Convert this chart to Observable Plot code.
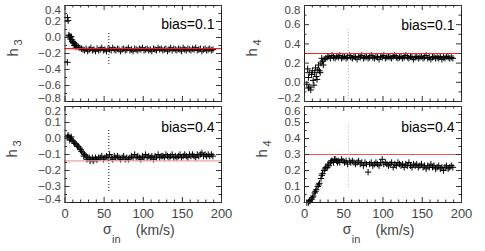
<!DOCTYPE html>
<html>
<head>
<meta charset="utf-8">
<script src="https://cdn.jsdelivr.net/npm/d3@7"></script>
<script src="https://cdn.jsdelivr.net/npm/@observablehq/plot@0.6"></script>
<style>
  html, body { margin: 0; padding: 0; background: #fff; }
  #chart { position: relative; width: 485px; height: 251px; overflow: hidden; background: #fff; }
  #chart svg { position: absolute; left: 0; top: 0; background: transparent !important; }
</style>
</head>
<body>
<div id="chart"></div>
<script>
// sigma_in (km/s) sampling
const sigmaIn = [3,5,7,9,11,13,15,17,19,21,23,25,27,29,31,33,35,37,39,41,43,45,47,49,51,53,55,57,59,61,63,65,67,69,71,73,75,77,79,81,83,85,87,89,91,93,95,97,99,101,103,105,107,109,111,113,115,117,119,121,123,125,127,129,131,133,135,137,139,141,143,145,147,149,151,153,155,157,159,161,163,165,167,169,171,173,175,177,179,181,183,185,187,189];

// h3, bias = 0.1
const h3Bias01 = [0.25,0.02,0.01,-0.03,-0.06,-0.08,-0.10,-0.12,-0.13,-0.14,-0.15,
-0.16,-0.14,-0.17,-0.15,-0.13,-0.16,-0.15,-0.17,-0.14,-0.16,
-0.15,-0.13,-0.16,-0.15,-0.17,-0.14,-0.15,-0.16,-0.13,-0.15,
-0.16,-0.14,-0.15,-0.17,-0.15,-0.14,-0.16,-0.15,-0.13,-0.16,
-0.15,-0.17,-0.14,-0.15,-0.16,-0.14,-0.15,-0.13,-0.16,-0.15,
-0.14,-0.16,-0.15,-0.17,-0.14,-0.15,-0.16,-0.13,-0.15,-0.14,
-0.16,-0.15,-0.14,-0.17,-0.15,-0.13,-0.16,-0.14,-0.15,-0.16,
-0.14,-0.15,-0.17,-0.13,-0.15,-0.16,-0.14,-0.15,-0.16,-0.14,
-0.15,-0.13,-0.16,-0.15,-0.14,-0.17,-0.15,-0.14,-0.16,-0.15,
-0.14,-0.16,-0.15];
const h3Bias01ExtraX = [3,4,5,6,7,8,9,10,12,14];
const h3Bias01ExtraY = [-0.31,0.21,0.03,0.00,-0.02,0.01,-0.05,-0.07,-0.10,-0.12];

// h3, bias = 0.4
const h3Bias04 = [0.01,0.01,0.00,-0.01,-0.02,-0.03,-0.04,-0.05,-0.06,-0.08,-0.09,-0.10,-0.11,-0.12,-0.12,-0.13,-0.12,-0.13,-0.12,-0.13,-0.12,
-0.12,-0.11,-0.13,-0.12,-0.11,-0.12,-0.10,-0.12,-0.13,-0.11,
-0.12,-0.11,-0.12,-0.13,-0.12,-0.11,-0.13,-0.12,-0.13,-0.12,
-0.11,-0.12,-0.10,-0.12,-0.11,-0.12,-0.13,-0.11,-0.12,-0.10,
-0.12,-0.11,-0.12,-0.11,-0.13,-0.11,-0.12,-0.10,-0.12,-0.11,
-0.11,-0.12,-0.10,-0.11,-0.12,-0.11,-0.10,-0.12,-0.11,-0.12,
-0.11,-0.10,-0.12,-0.11,-0.10,-0.11,-0.12,-0.10,-0.11,-0.10,
-0.11,-0.12,-0.10,-0.11,-0.10,-0.09,-0.11,-0.10,-0.11,-0.10,
-0.11,-0.10,-0.11];
const h3Bias04ExtraX = [4,6,8,12,16,20,24,28,32,36,40];
const h3Bias04ExtraY = [0.02,-0.01,0.01,-0.03,-0.05,-0.07,-0.11,-0.13,-0.14,-0.14,-0.13];

// h4, bias = 0.1
const h4Bias01 = [-0.02,0.05,-0.05,0.08,0.02,0.10,0.06,0.13,0.12,0.20,0.22,0.24,0.25,
0.26,0.27,0.25,0.28,0.26,0.25,0.27,0.26,0.28,0.25,
0.26,0.27,0.25,0.26,0.28,0.26,0.25,0.27,0.26,0.24,
0.27,0.26,0.28,0.25,0.26,0.27,0.25,0.26,0.28,0.26,
0.25,0.27,0.26,0.24,0.27,0.26,0.28,0.25,0.26,0.27,
0.26,0.25,0.27,0.28,0.26,0.25,0.26,0.27,0.25,0.26,
0.28,0.26,0.25,0.27,0.26,0.24,0.26,0.27,0.25,0.26,
0.27,0.25,0.26,0.28,0.25,0.26,0.24,0.26,0.27,0.25,
0.26,0.25,0.27,0.24,0.26,0.25,0.27,0.26,0.25,0.26,
0.25];
const h4Bias01ExtraX = [4,5,6,8,10,12,14,16,18,20,22,24];
const h4Bias01ExtraY = [0.14,-0.06,0.10,-0.08,0.12,-0.03,0.15,0.03,0.18,0.10,0.25,0.18];

// h4, bias = 0.4
const h4Bias04 = [0.00,0.00,0.01,0.02,0.04,0.06,0.08,0.10,0.12,0.15,0.18,0.20,0.22,0.22,0.23,0.25,0.26,0.25,0.27,0.26,
0.26,0.25,0.27,0.26,0.25,0.26,0.24,0.26,0.25,0.26,
0.25,0.24,0.25,0.26,0.24,0.25,0.23,0.25,0.24,0.19,
0.24,0.25,0.23,0.24,0.25,0.24,0.23,0.25,0.27,0.24,
0.25,0.24,0.23,0.24,0.25,0.22,0.24,0.23,0.25,0.24,
0.23,0.24,0.22,0.24,0.23,0.25,0.23,0.22,0.24,0.23,
0.24,0.22,0.23,0.24,0.22,0.23,0.21,0.23,0.22,0.24,
0.22,0.23,0.21,0.22,0.23,0.21,0.22,0.20,0.22,0.23,
0.21,0.22,0.23,0.22];
const h4Bias04ExtraX = [6,10,14,18,22,26,30,34,38,42];
const h4Bias04ExtraY = [0.01,0.03,0.07,0.11,0.17,0.21,0.24,0.26,0.27,0.25];

// tick labels
const xTickLabels = [0,50,100,150,200];
const h3TopTicks = [0.4,0.2,0.0,-0.2,-0.4,-0.6,-0.8];
const h3BotTicks = [0.2,0.1,0.0,-0.1,-0.2,-0.3,-0.4];
const h4TopTicks = [0.8,0.6,0.4,0.2,0.0,-0.2];
const h4BotTicks = [0.6,0.5,0.4,0.3,0.2,0.1,0.0];

const W = 485, H = 251;
const tickFont = "Liberation Sans, Arial, Helvetica, sans-serif";
const labelColor = "#444";
const yFont = 11.5;

const plusSymbol = {
  draw(ctx, size) {
    const r = Math.sqrt(size / Math.PI);
    ctx.moveTo(-r, 0); ctx.lineTo(r, 0);
    ctx.moveTo(0, -r); ctx.lineTo(0, r);
  }
};

function steps(a, b, s) { const out = []; for (let v = a; v <= b + 1e-9; v += s) out.push(+v.toFixed(4)); return out; }

function panel(cfg) {
  const fmt = d3.format(".1f");
  const ticks = cfg.ticks;
  const [yTop, yBot] = [ticks[0], ticks[ticks.length - 1]];
  const mid = ticks.slice(1, -1);
  const ymin = Math.min(yTop, yBot), ymax = Math.max(yTop, yBot);
  const pts = cfg.xs.map((x, i) => ({x, y: cfg.ys[i]}))
    .concat(cfg.ex.map((x, i) => ({x, y: cfg.ey[i]})));
  const xMajor = xTickLabels;
  const xMinor = steps(0, 200, 10).filter(d => d % 50 !== 0);
  const yMajor = steps(ymin, ymax, cfg.yStep);
  const yMinor = steps(ymin, ymax, cfg.yStep / 2).filter(v => !yMajor.some(m => Math.abs(m - v) < 1e-6));
  // tick lengths in data units (5px major, 2.5px minor)
  const pxY = (ymax - ymin) / (cfg.bot - cfg.top);
  const pxX = 200 / (cfg.right - cfg.left);
  const tY = 5 * pxY, tYm = 2.5 * pxY, tX = 5 * pxX, tXm = 2.5 * pxX;
  const tickStroke = "#333";
  const marks = [
    Plot.dot(pts, {x: "x", y: "y", symbol: plusSymbol, r: 3.2, stroke: "#000", fill: "none", strokeWidth: 1}),
    Plot.ruleY([cfg.ref], {stroke: cfg.refColor, strokeWidth: 1.2}),
    Plot.ruleX([cfg.vline], {y1: cfg.v1, y2: cfg.v2, stroke: cfg.vColor, strokeDasharray: "1,2", strokeWidth: 1}),
    Plot.frame({stroke: "#222", strokeWidth: 1}),
    // inward ticks on all four sides
    Plot.ruleX(xMajor, {x: d => d, y1: ymin, y2: ymin + tY, stroke: tickStroke}),
    Plot.ruleX(xMajor, {x: d => d, y1: ymax, y2: ymax - tY, stroke: tickStroke}),
    Plot.ruleX(xMinor, {x: d => d, y1: ymin, y2: ymin + tYm, stroke: tickStroke}),
    Plot.ruleX(xMinor, {x: d => d, y1: ymax, y2: ymax - tYm, stroke: tickStroke}),
    Plot.ruleY(yMajor, {y: d => d, x1: 0, x2: tX, stroke: tickStroke}),
    Plot.ruleY(yMajor, {y: d => d, x1: 200, x2: 200 - tX, stroke: tickStroke}),
    Plot.ruleY(yMinor, {y: d => d, x1: 0, x2: tXm, stroke: tickStroke}),
    Plot.ruleY(yMinor, {y: d => d, x1: 200, x2: 200 - tXm, stroke: tickStroke}),
    // y tick labels
    Plot.text(mid, {y: d => d, frameAnchor: "left", text: d => fmt(d), textAnchor: "end", dx: -4, fontSize: yFont, fill: labelColor, fontFamily: tickFont}),
    Plot.text([yTop], {y: d => d, frameAnchor: "left", text: d => fmt(d), textAnchor: "end", lineAnchor: "top", dx: -4, dy: 0, fontSize: yFont, fill: labelColor, fontFamily: tickFont}),
    Plot.text([yBot], {y: d => d, frameAnchor: "left", text: d => fmt(d), textAnchor: "end", lineAnchor: "bottom", dx: -4, dy: 0, fontSize: yFont, fill: labelColor, fontFamily: tickFont}),
    // y title h_n (rotated)
    Plot.text(["h"], {frameAnchor: "left", dx: cfg.hdx, dy: 3, rotate: -90, fontSize: 15, fill: labelColor, fontFamily: tickFont}),
    Plot.text([cfg.sub], {frameAnchor: "left", dx: cfg.hdx + 5, dy: -8, rotate: -90, fontSize: 11, fill: labelColor, fontFamily: tickFont}),
    // bias annotation
    Plot.text([cfg.bias], {frameAnchor: "top-right", dx: -7, dy: cfg.biasDy, textAnchor: "end", fontSize: 14, fill: "#000", fontFamily: tickFont})
  ];
  if (cfg.bottom) {
    marks.push(
      Plot.text(xTickLabels, {x: d => d, frameAnchor: "bottom", dy: 15, text: d => String(d), fontSize: 13, fill: labelColor, fontFamily: tickFont}),
      Plot.text(["σ"], {frameAnchor: "bottom", dx: -36, dy: 31.5, fontSize: 14, fill: labelColor, fontFamily: tickFont}),
      Plot.text(["in"], {frameAnchor: "bottom", dx: -27, dy: 40.5, fontSize: 11, fill: labelColor, fontFamily: tickFont}),
      Plot.text(["(km/s)"], {frameAnchor: "bottom", dx: 12, dy: 32, fontSize: 14, fill: labelColor, fontFamily: tickFont})
    );
  }
  const svg = Plot.plot({
    width: W, height: H,
    marginLeft: cfg.left, marginRight: W - cfg.right,
    marginTop: cfg.top, marginBottom: H - cfg.bot,
    x: {domain: [0, 200], axis: null},
    y: {domain: [ymin, ymax], axis: null},
    style: {background: "transparent", overflow: "visible"},
    marks
  });
  document.getElementById("chart").appendChild(svg);
}

panel({xs: sigmaIn, ys: h3Bias01, ex: h3Bias01ExtraX, ey: h3Bias01ExtraY, ticks: h3TopTicks, yStep: 0.2,
  left: 64.5, right: 221, top: 5, bot: 101, ref: -0.14, refColor: "#ee2222", vline: 56, v1: 0.05, v2: -0.35, vColor: "#222",
  sub: "3", hdx: -52, bias: "bias=0.1", biasDy: 14, bottom: false});
panel({xs: sigmaIn, ys: h3Bias04, ex: h3Bias04ExtraX, ey: h3Bias04ExtraY, ticks: h3BotTicks, yStep: 0.1,
  left: 64.5, right: 221, top: 106, bot: 202, ref: -0.14, refColor: "#f4a0a0", vline: 56, v1: 0.05, v2: -0.34, vColor: "#222",
  sub: "3", hdx: -53, bias: "bias=0.4", biasDy: 16, bottom: true});
panel({xs: sigmaIn, ys: h4Bias01, ex: h4Bias01ExtraX, ey: h4Bias01ExtraY, ticks: h4TopTicks, yStep: 0.2,
  left: 304, right: 461, top: 5, bot: 101, ref: 0.3, refColor: "#ff2020", vline: 56, v1: 0.55, v2: -0.2, vColor: "#bbb",
  sub: "4", hdx: -52, bias: "bias=0.1", biasDy: 15, bottom: false});
panel({xs: sigmaIn, ys: h4Bias04, ex: h4Bias04ExtraX, ey: h4Bias04ExtraY, ticks: h4BotTicks, yStep: 0.1,
  left: 304, right: 461, top: 106, bot: 202, ref: 0.3, refColor: "#f05555", vline: 56, v1: 0.49, v2: 0.09, vColor: "#bbb",
  sub: "4", hdx: -42, bias: "bias=0.4", biasDy: 16, bottom: true});
</script>
</body>
</html>
